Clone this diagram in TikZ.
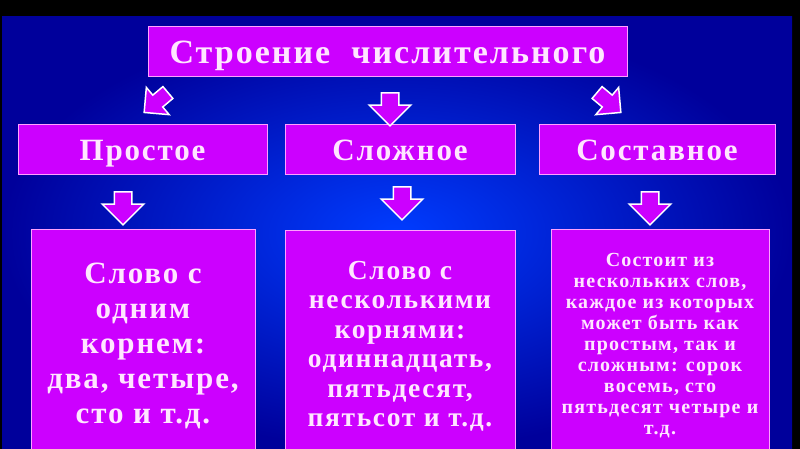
\documentclass[tikz,border=0pt]{standalone}
\usepackage{fontspec}
\newfontfamily\slidefont{Liberation Serif}[LetterSpace=6]
\usetikzlibrary{positioning,shapes.arrows}
\definecolor{boxfill}{RGB}{204,0,255}
\definecolor{boxline}{RGB}{255,160,255}
\definecolor{txtcol}{RGB}{255,230,255}
\definecolor{bgin}{RGB}{0,60,255}
\definecolor{bgout}{RGB}{0,0,155}
\tikzstyle{box} = [draw=boxline, fill=boxfill, line width=1pt, rectangle, text=txtcol, align=center, inner sep=0pt]
\tikzstyle{head} = [box, minimum height=50pt, text depth=0pt, font=\slidefont\bfseries\fontsize{31}{36}\selectfont]
\tikzstyle{card} = [box, anchor=north, minimum height=232pt]
\tikzstyle{arr} = [single arrow, draw=white, fill=boxfill, line width=1.5pt, minimum height=33pt, minimum width=40pt, single arrow head extend=12pt, single arrow head indent=0pt, inner xsep=0pt, inner ysep=8pt]
\tikzstyle{arrs} = [arr, minimum height=31pt, minimum width=35pt, single arrow head extend=10pt, inner ysep=7pt]

\begin{document}
\begin{tikzpicture}[x=1pt, y=-1pt]
	\useasboundingbox (0,0) rectangle (800,449);
	\fill [black] (0,0) rectangle (800,449);
	\shade [inner color=bgin, outer color=bgout] (2,17) rectangle (792,449);
	%
	\node (title) [head, minimum width=479pt, font=\slidefont\bfseries\fontsize{34}{40}\selectfont] at (387.5,52) {Строение\ \ числительного};
	%
	\node (prost) [head, minimum width=249pt] at (142.5,150) {Простое};
	\node (slozh) [head, minimum width=230pt] at (400,150) {Сложное};
	\node (sost) [head, minimum width=236pt] at (657,150) {Составное};
	%
	\node (aprost) [arrs, rotate=-140] at (159,100) {};
	\node (aslozh) [arr, rotate=-90] at (390,105) {};
	\node (asost) [arrs, rotate=-40] at (606,100) {};
	%
	\node (dprost) [arr, rotate=-90] at (123,204) {};
	\node (dslozh) [arr, rotate=-90] at (402,199) {};
	\node (dsost) [arr, rotate=-90] at (650,204) {};
	%
	\node (tprost) [card, minimum width=224pt, font=\slidefont\bfseries\fontsize{31}{35}\selectfont] at (143,229) {Слово с\\одним\\корнем:\\два, четыре,\\сто и т.д.};
	\node (tslozh) [card, minimum width=230pt, font=\slidefont\bfseries\fontsize{27.5}{29.5}\selectfont] at (400,230) {Слово с\\несколькими\\корнями:\\одиннадцать,\\пятьдесят,\\пятьсот и т.д.};
	\node (tsost) [card, minimum width=218pt, font=\slidefont\bfseries\fontsize{20}{21}\selectfont] at (660,229) {Состоит из\\нескольких слов,\\каждое из которых\\может быть как\\простым, так и\\сложным: сорок\\восемь, сто\\пятьдесят четыре и\\т.д.};
\end{tikzpicture}
\end{document}
